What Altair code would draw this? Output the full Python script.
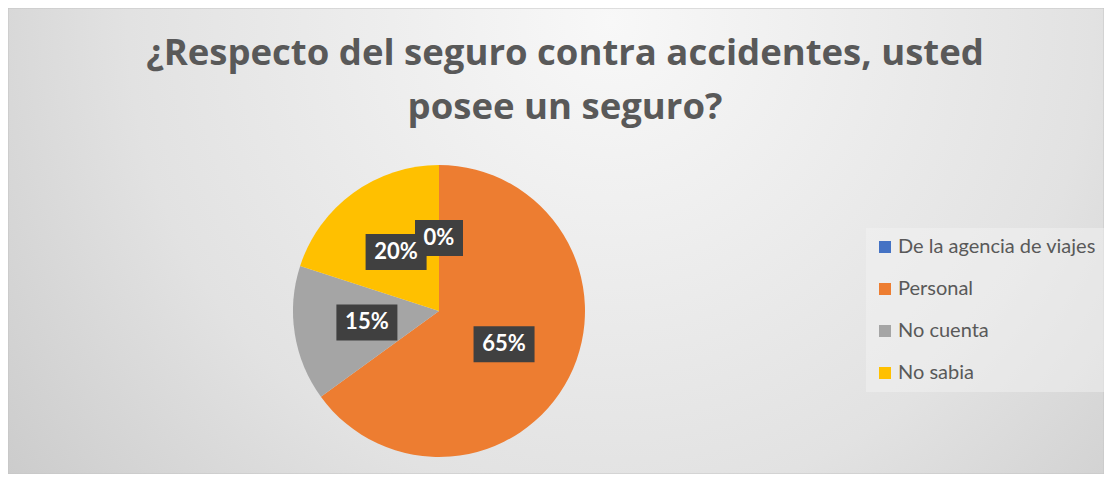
import altair as alt
import pandas as pd

# ---- data ----
categories = ["De la agencia de viajes", "Personal", "No cuenta", "No sabia"]
percentages = [0, 65, 15, 20]
colors = ["#4472C4", "#ED7D31", "#A5A5A5", "#FFC000"]
title_lines = ["¿Respecto del seguro contra accidentes, usted", "posee un seguro?"]

df = pd.DataFrame({
    "categoria": categories,
    "pct": percentages,
    "orden": list(range(len(categories))),
})

W, H, TOP = 1096, 326, 140
CX, CY, R, LR = 431, 163, 146, 73
FONT = "Lato"

bg = alt.Chart(pd.DataFrame({"bg": [0]})).mark_rect(
    fill=alt.Gradient(
        gradient="radial", x1=0.55, y1=0.3, r1=0, x2=0.55, y2=0.3, r2=0.8,
        stops=[
            alt.GradientStop(offset=0, color="#f8f8f8"),
            alt.GradientStop(offset=0.55, color="#e2e2e2"),
            alt.GradientStop(offset=1, color="#c2c2c2"),
        ],
    ),
    stroke="#c4c4c4", strokeWidth=1,
).encode(x=alt.value(0), x2=alt.value(W), y=alt.value(-TOP), y2=alt.value(H))

base = alt.Chart(df)

pie = base.mark_arc(outerRadius=R).encode(
    theta=alt.Theta("pct:Q", stack=True),
    color=alt.Color(
        "categoria:N",
        scale=alt.Scale(domain=categories, range=colors),
        legend=alt.Legend(
            orient="none", legendX=858, legendY=80, title=None,
            fillColor="rgba(245,245,245,0.45)", padding=9,
            symbolType="square", symbolSize=144, symbolStrokeWidth=0,
            labelFontSize=20, labelFont=FONT, labelColor="#595959",
            rowPadding=22, labelOffset=3, labelLimit=400,
        ),
    ),
    order=alt.Order("orden:Q"),
    x=alt.value(CX),
    y=alt.value(CY),
)

lab = base.transform_window(
    cum="sum(pct)", sort=[alt.SortField("orden")], frame=[None, 0]
).transform_joinaggregate(
    total="sum(pct)"
).transform_calculate(
    mid="(datum.cum - datum.pct/2)/datum.total*2*PI",
    lx=f"{CX} + {LR}*sin(datum.mid)",
    ly=f"{CY} - {LR}*cos(datum.mid)",
    label="datum.pct + '%'",
    bw="13*length(datum.label) + 22",
    bx1="datum.lx - datum.bw/2",
    bx2="datum.lx + datum.bw/2",
    by1="datum.ly - 18",
    by2="datum.ly + 18",
)

boxes = lab.mark_rect(fill="#404040").encode(
    x=alt.X("bx1:Q", scale=None, axis=None),
    x2="bx2:Q",
    y=alt.Y("by1:Q", scale=None, axis=None),
    y2="by2:Q",
    order=alt.Order("orden:Q"),
)

texts = lab.mark_text(color="white", font=FONT, fontSize=22, fontWeight="bold").encode(
    x=alt.X("lx:Q", scale=None, axis=None),
    y=alt.Y("ly:Q", scale=None, axis=None),
    text="label:N",
)

chart = alt.layer(bg, pie, boxes, texts).properties(
    width=W,
    height=H,
    autosize=alt.AutoSizeParams(type="none"),
    padding={"left": 0, "top": TOP, "right": 0, "bottom": 0},
    title=alt.TitleParams(
        text=title_lines, fontSize=36.5, font="Open Sans", fontWeight="bold",
        color="#595959", lineHeight=54, anchor="middle", dx=9, offset=-(TOP - 21),
    ),
).configure_view(strokeWidth=0).configure(background="white")

chart.save("out.html", embed_options={"renderer": "svg", "actions": False})
